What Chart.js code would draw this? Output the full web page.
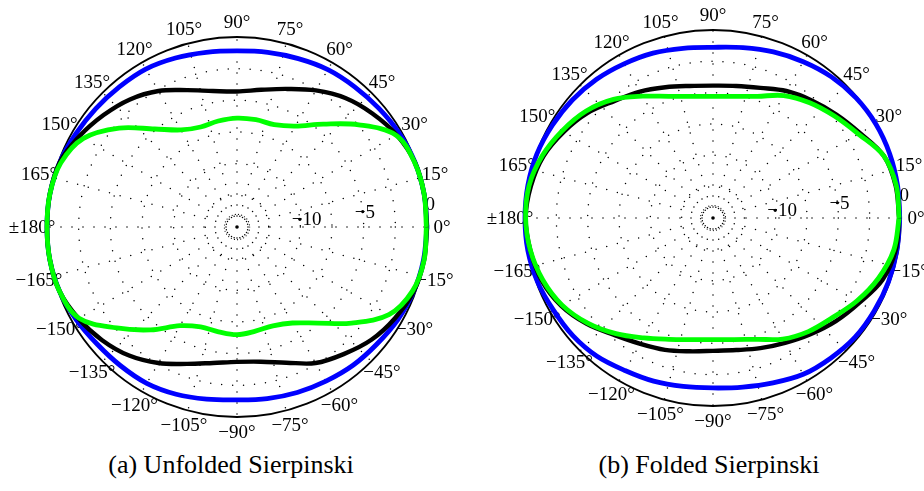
<!DOCTYPE html>
<html>
<head>
<meta charset="utf-8">
<script src="https://cdn.jsdelivr.net/npm/chart.js@4.4.1/dist/chart.umd.min.js"></script>
<style>
  html, body { margin: 0; padding: 0; background: #fff; width: 924px; height: 491px; overflow: hidden; }
  .panel { position: absolute; top: 0; width: 462px; height: 440px; }
  #panelA { left: 0; }
  #panelB { left: 462px; }
  .caption { position: absolute; top: 450px; font: 26px "Liberation Serif", "Times New Roman", serif;
             color: #000; white-space: nowrap; transform: translateX(-50%); line-height: 30px; }
</style>
</head>
<body>
<div class="panel" id="panelA"><canvas id="chartA" width="462" height="440"></canvas></div>
<div class="panel" id="panelB"><canvas id="chartB" width="462" height="440"></canvas></div>
<div class="caption" style="left:231px">(a) Unfolded Sierpinski</div>
<div class="caption" style="left:709px">(b) Folded Sierpinski</div>

<script>
// Radial range in dB (centre = DB_MIN, outer circle = DB_MAX)
const DB_MIN = -15;
const DB_MAX = 0;

// Sample angles (degrees) of every pattern cut
const angles = [0, 10, 20, 30, 40, 50, 60, 70, 80, 90, 100, 110, 120, 130, 140, 150, 160, 170,
                180, 190, 200, 210, 220, 230, 240, 250, 260, 270, 280, 290, 300, 310, 320, 330, 340, 350];

// Angular grid ticks and their labels
const angleTicks = [0, 15, 30, 45, 60, 75, 90, 105, 120, 135, 150, 165,
                    180, 195, 210, 225, 240, 255, 270, 285, 300, 315, 330, 345];
const angleTickLabels = ['0°', '15°', '30°', '45°', '60°', '75°', '90°', '105°', '120°', '135°', '150°', '165°',
                         '±180°', '−165°', '−150°', '−135°', '−120°', '−105°', '−90°', '−75°', '−60°', '−45°', '−30°', '−15°'];

// Radial ticks (dB) and labels
const radialTicks = [-10, -5, 0];
const radialTickLabels = ['−10', '−5', '0'];
const ringLevels = [-12.5, -10, -7.5, -5, -2.5];
const innerRingLevel = -14;

// (a) Unfolded Sierpinski, normalised gain in dB
const unfoldedBlue  = [0, 0, -0.05, -0.2, -0.4, -0.55, -0.65, -0.85, -1.0, -1.1, -1.0, -0.8, -0.6, -0.55, -0.45, -0.3, -0.1, 0,
                       0, 0, -0.1, -0.35, -0.6, -0.7, -0.75, -0.95, -1.2, -1.35, -1.25, -1.1, -0.95, -0.75, -0.6, -0.35, -0.15, -0.05];
const unfoldedBlack = [0, 0, -0.06, -0.45, -1.05, -1.7, -2.55, -3.4, -4.0, -4.3, -4.1, -3.5, -2.6, -1.85, -1.25, -0.65, -0.1, 0,
                       0, 0, -0.1, -0.55, -1.1, -1.75, -2.6, -3.5, -4.1, -4.35, -4.2, -3.6, -2.6, -1.9, -1.15, -0.6, -0.15, 0];
const unfoldedGreen = [-0.05, 0, -0.08, -0.5, -2.45, -4.4, -5.8, -6.4, -6.4, -6.4, -6.5, -6.6, -6.15, -4.9, -2.85, -1.0, -0.2, 0,
                       0, 0, -0.1, -0.6, -2.6, -4.4, -6.0, -6.6, -6.6, -6.5, -6.65, -6.7, -6.25, -5.1, -3.2, -1.15, -0.25, 0];

// (b) Folded Sierpinski, normalised gain in dB
const foldedBlue  = [-0.1, -0.05, 0, 0, -0.1, -0.3, -0.6, -0.9, -1.2, -1.38, -1.25, -1.0, -0.8, -0.55, -0.35, -0.2, -0.05, 0,
                     0, 0, -0.1, -0.3, -0.4, -0.6, -0.95, -1.15, -1.35, -1.44, -1.3, -1.0, -0.6, -0.4, -0.2, -0.15, -0.1, -0.1];
const foldedBlack = [-0.15, -0.2, -0.5, -1.45, -2.15, -2.75, -3.3, -3.95, -4.3, -4.44, -4.3, -3.9, -3.35, -2.8, -1.95, -1.25, -0.6, -0.25,
                     -0.05, -0.2, -0.45, -1.0, -1.85, -2.8, -3.4, -3.8, -4.2, -4.4, -4.3, -3.95, -3.5, -2.9, -2.2, -1.5, -0.6, -0.2];
const foldedGreen = [-0.15, -0.15, -0.5, -1.6, -2.35, -3.0, -3.72, -4.67, -5.14, -5.3, -5.14, -4.67, -3.78, -2.65, -1.75, -1.1, -0.5, -0.1,
                     -0.05, -0.2, -0.55, -1.1, -1.95, -2.95, -3.95, -4.7, -5.15, -5.3, -5.15, -4.7, -3.85, -3.17, -2.6, -1.75, -0.95, -0.35];

const LABEL_FONT = '19px "Liberation Serif", "Times New Roman", serif';

// Polar (angle, dB) -> cartesian points in radial units, closed loop
function polarPoints(values) {
  const pts = angles.map((a, i) => {
    const r = values[i] - DB_MIN;
    const t = a * Math.PI / 180;
    return { x: r * Math.cos(t), y: r * Math.sin(t) };
  });
  pts.push({ ...pts[0] });
  return pts;
}

// Draws the dotted polar grid, outer circle and all tick labels beneath the curves
const polarFrame = {
  id: 'polarFrame',
  beforeDatasetsDraw(chart) {
    const { ctx, scales: { x, y } } = chart;
    const cx = x.getPixelForValue(0);
    const cy = y.getPixelForValue(0);
    const unit = x.getPixelForValue(1) - cx;
    const R = unit * (DB_MAX - DB_MIN);
    const rad = v => (v - DB_MIN) * unit;

    ctx.save();
    ctx.strokeStyle = '#000';
    ctx.lineCap = 'round';
    ctx.lineWidth = 1.5;

    // spokes
    ctx.setLineDash([0, 11]);
    angleTicks.forEach(a => {
      const t = a * Math.PI / 180;
      ctx.beginPath();
      ctx.moveTo(cx, cy);
      ctx.lineTo(cx + R * Math.cos(t), cy - R * Math.sin(t));
      ctx.stroke();
    });
    // rings
    ringLevels.forEach(v => {
      ctx.beginPath();
      ctx.arc(cx, cy, rad(v), 0, Math.PI * 2);
      ctx.stroke();
    });
    ctx.lineWidth = 1.2;
    ctx.setLineDash([0, 3.2]);
    ctx.beginPath();
    ctx.arc(cx, cy, rad(innerRingLevel), 0, Math.PI * 2);
    ctx.stroke();

    // outer circle
    ctx.setLineDash([]);
    ctx.lineCap = 'butt';
    ctx.lineWidth = 1.8;
    ctx.beginPath();
    ctx.arc(cx, cy, R, 0, Math.PI * 2);
    ctx.stroke();

    // centre dot
    ctx.fillStyle = '#000';
    ctx.beginPath();
    ctx.arc(cx, cy, 1.8, 0, Math.PI * 2);
    ctx.fill();

    // angle labels
    ctx.font = LABEL_FONT;
    ctx.textAlign = 'center';
    ctx.textBaseline = 'middle';
    const lr = R + 15;
    angleTicks.forEach((a, i) => {
      const t = a * Math.PI / 180;
      ctx.fillText(angleTickLabels[i], cx + lr * Math.cos(t), cy - lr * Math.sin(t) + 1);
    });

    // radial labels at 7 degrees
    ctx.textAlign = 'left';
    const lt = 7 * Math.PI / 180;
    radialTicks.forEach((v, i) => {
      const r = rad(v);
      const px = cx + r * Math.cos(lt);
      const py = cy - r * Math.sin(lt);
      ctx.beginPath();
      ctx.arc(px, py, 1.6, 0, Math.PI * 2);
      ctx.fill();
      const off = radialTickLabels[i].startsWith('−') ? -8 : 0;
      ctx.fillText(radialTickLabels[i], px + off, py + 1);
    });
    ctx.restore();
  }
};

function makeChart(id, series, pad) {
  const span = DB_MAX - DB_MIN;
  return new Chart(document.getElementById(id), {
    type: 'scatter',
    data: {
      datasets: [
        { data: polarPoints(series.green), borderColor: '#00ff00', borderWidth: 4.8 },
        { data: polarPoints(series.black), borderColor: '#000000', borderWidth: 4.4 },
        { data: polarPoints(series.blue),  borderColor: '#0000ff', borderWidth: 4.8 }
      ].map(d => Object.assign(d, { showLine: true, pointRadius: 0, tension: 0.35, fill: false, clip: false }))
    },
    options: {
      responsive: false,
      animation: false,
      events: [],
      layout: { padding: pad },
      scales: {
        x: { type: 'linear', min: -span, max: span, display: false },
        y: { type: 'linear', min: -span, max: span, display: false }
      },
      plugins: { legend: { display: false }, tooltip: { enabled: false } }
    },
    plugins: [polarFrame]
  });
}

makeChart('chartA', { blue: unfoldedBlue, black: unfoldedBlack, green: unfoldedGreen },
          { left: 47, right: 35, top: 37, bottom: 23 });
makeChart('chartB', { blue: foldedBlue, black: foldedBlack, green: foldedGreen },
          { left: 63, right: 23, top: 30, bottom: 34 });
</script>
</body>
</html>
